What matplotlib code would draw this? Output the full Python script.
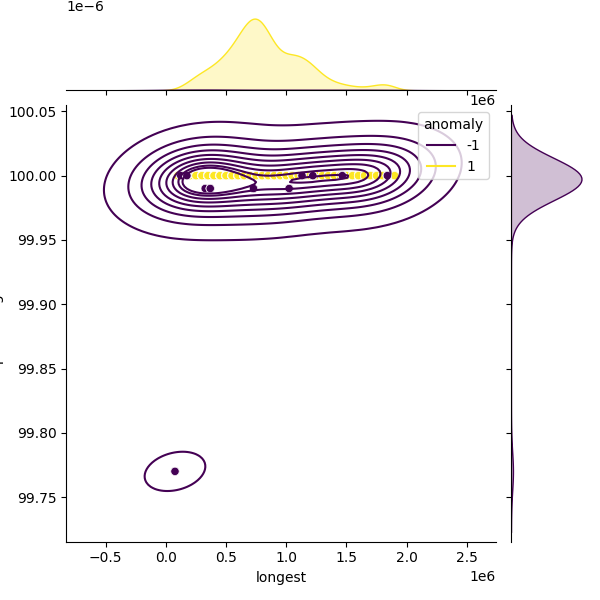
import numpy as np
import pandas as pd
import seaborn as sns
import matplotlib
matplotlib.use("Agg")
import matplotlib.pyplot as plt

# anomalous points (-1) lying under the normal row: x in millions, y, row count
under_x = [0.50, 0.90, 1.65]
under_y = [100.0, 100.0, 100.0]
under_n = [6, 2, 6]

# normal points (1): x in millions, all sit at 100.00, count of rows at each x
norm_x = [0.10, 0.15, 0.20, 0.25, 0.30, 0.35, 0.40, 0.45, 0.50, 0.55,
          0.60, 0.65, 0.70, 0.75, 0.80, 0.85, 0.90, 0.95, 1.00, 1.05,
          1.10, 1.15, 1.20, 1.25, 1.30, 1.35, 1.40, 1.45, 1.50, 1.55,
          1.60, 1.65, 1.70, 1.75, 1.80, 1.85, 1.90]
norm_n = [5, 15, 30, 45, 55, 65, 75, 90, 110, 130,
          160, 195, 225, 235, 215, 180, 130, 105, 105, 110,
          108, 100, 85, 65, 45, 32, 25, 20, 16, 13,
          10, 9, 12, 17, 22, 22, 10]
norm_y = 100.0

# anomalous points (-1) drawn on top: x in millions, y value, row count
anom_x = [0.076, 0.124, 0.175, 0.327, 0.369, 0.728, 1.024, 1.131, 1.221, 1.466, 1.84]
anom_y = [99.77, 100.0, 100.0, 99.99, 99.99, 99.99, 99.99, 100.0, 100.0, 100.0, 100.0]
anom_n = [2, 8, 6, 4, 4, 6, 6, 4, 4, 6, 10]

longest = np.concatenate([np.repeat(under_x, under_n),
                          np.repeat(norm_x, norm_n),
                          np.repeat(anom_x, anom_n)]) * 1e6
percentage = np.concatenate([np.repeat(under_y, under_n),
                             np.full(sum(norm_n), norm_y),
                             np.repeat(anom_y, anom_n)])
anomaly = np.concatenate([np.full(sum(under_n), -1),
                          np.full(sum(norm_n), 1),
                          np.full(sum(anom_n), -1)])

df = pd.DataFrame({'longest': longest, 'percentage': percentage, 'anomaly': anomaly})

g = sns.jointplot(data=df, x='longest', y='percentage', hue='anomaly',
                  kind='kde', palette='viridis', height=6,
                  marginal_kws={'fill': True})
g.plot_joint(sns.scatterplot, legend=False)

plt.savefig('out.png', dpi=100)
